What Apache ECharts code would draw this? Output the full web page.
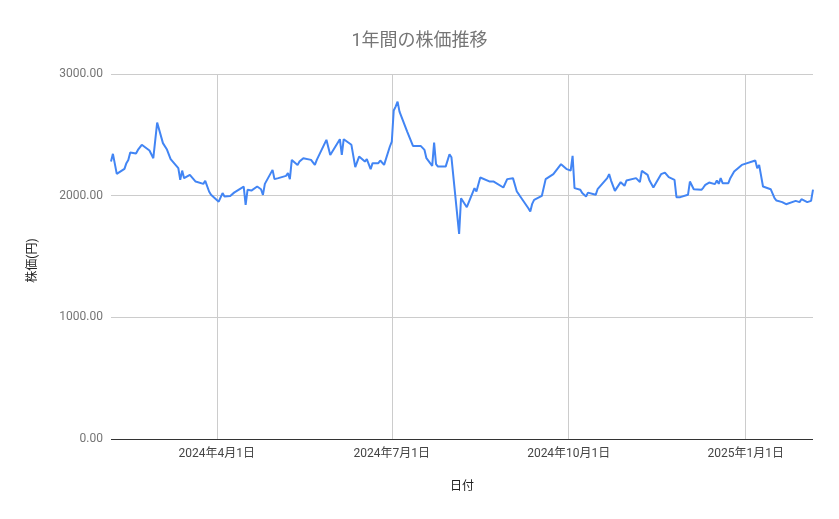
<!DOCTYPE html>
<html><head><meta charset="utf-8">
<script src="https://cdn.jsdelivr.net/npm/echarts@6/dist/echarts.min.js"></script>
<style>html,body{margin:0;padding:0;background:#fff}#c{width:839px;height:519px}</style>
</head><body><div id="c"></div>
<script>
const chartTitle = '1年間の株価推移';
const xAxisName = '日付';
const yAxisName = '株価(円)';
const dates = [
 '2024-02-06','2024-02-07','2024-02-08','2024-02-09','2024-02-13','2024-02-14','2024-02-15','2024-02-16','2024-02-19','2024-02-20',
 '2024-02-22','2024-02-26','2024-02-28','2024-02-29','2024-03-01','2024-03-04','2024-03-06','2024-03-08','2024-03-12','2024-03-13',
 '2024-03-14','2024-03-15','2024-03-18','2024-03-21','2024-03-22','2024-03-25','2024-03-26','2024-03-27','2024-03-28','2024-03-29',
 '2024-04-02','2024-04-04','2024-04-05','2024-04-08','2024-04-10','2024-04-15','2024-04-16','2024-04-17','2024-04-19','2024-04-22',
 '2024-04-24','2024-04-25','2024-04-26','2024-04-30','2024-05-01','2024-05-03','2024-05-07','2024-05-08','2024-05-09','2024-05-10',
 '2024-05-13','2024-05-14','2024-05-16','2024-05-20','2024-05-21','2024-05-22','2024-05-23','2024-05-28','2024-05-30','2024-05-31',
 '2024-06-04','2024-06-05','2024-06-06','2024-06-07','2024-06-10','2024-06-12','2024-06-13','2024-06-14','2024-06-17','2024-06-18',
 '2024-06-19','2024-06-20','2024-06-21','2024-06-24','2024-06-25','2024-06-26','2024-06-27','2024-06-30','2024-07-01','2024-07-02',
 '2024-07-03','2024-07-04','2024-07-05','2024-07-09','2024-07-10','2024-07-12','2024-07-16','2024-07-18','2024-07-19','2024-07-22',
 '2024-07-23','2024-07-24','2024-07-25','2024-07-29','2024-07-31','2024-08-01','2024-08-05','2024-08-06','2024-08-09','2024-08-13',
 '2024-08-14','2024-08-16','2024-08-21','2024-08-23','2024-08-28','2024-08-30','2024-09-02','2024-09-04','2024-09-05','2024-09-10',
 '2024-09-11','2024-09-12','2024-09-13','2024-09-17','2024-09-19','2024-09-20','2024-09-23','2024-09-27','2024-09-30','2024-10-01',
 '2024-10-02','2024-10-03','2024-10-04','2024-10-07','2024-10-08','2024-10-09','2024-10-10','2024-10-11','2024-10-15','2024-10-16',
 '2024-10-21','2024-10-22','2024-10-23','2024-10-24','2024-10-25','2024-10-28','2024-10-29','2024-10-30','2024-10-31','2024-11-05',
 '2024-11-06','2024-11-07','2024-11-08','2024-11-11','2024-11-12','2024-11-13','2024-11-14','2024-11-18','2024-11-20','2024-11-22',
 '2024-11-25','2024-11-26','2024-11-27','2024-11-28','2024-12-02','2024-12-03','2024-12-05','2024-12-09','2024-12-10','2024-12-11',
 '2024-12-12','2024-12-13','2024-12-16','2024-12-17','2024-12-18','2024-12-19','2024-12-20','2024-12-23','2024-12-24','2024-12-26',
 '2024-12-30','2025-01-06','2025-01-07','2025-01-08','2025-01-10','2025-01-14','2025-01-15','2025-01-16','2025-01-17','2025-01-20',
 '2025-01-22','2025-01-27','2025-01-28','2025-01-29','2025-01-30','2025-02-02','2025-02-04','2025-02-05'
];
const prices = [
 2280,2344,2330,2179,2220,2267,2294,2354,2346,2376,
 2418,2371,2308,2294,2601,2432,2382,2300,2226,2130,
 2206,2144,2171,2116,2103,2097,2122,2111,2034,2007,
 1951,2021,1993,1998,2025,2075,1924,2048,2042,2075,
 2053,2007,2097,2212,2136,2144,2163,2185,2136,2294,
 2253,2280,2308,2294,2286,2253,2294,2459,2335,2327,
 2464,2335,2464,2450,2418,2234,2218,2321,2280,2300,
 2259,2218,2267,2267,2289,2286,2253,2404,2445,2700,
 2732,2773,2691,2527,2519,2409,2409,2376,2308,2245,
 2436,2259,2239,2239,2340,2316,1686,1979,1905,2062,
 2034,2149,2116,2116,2067,2136,2144,2034,2012,1897,
 1869,1933,1965,1998,2136,2138,2177,2259,2218,2220,
 2206,2327,2062,2048,2021,2025,1993,2025,2007,2053,
 2144,2177,2124,2122,2039,2111,2116,2081,2124,2144,
 2152,2111,2204,2171,2124,2116,2067,2177,2190,2152,
 2130,1988,1998,1988,2007,2116,2053,2048,2067,2089,
 2075,2108,2095,2124,2097,2144,2103,2103,2144,2198,
 2253,2289,2226,2253,2075,2053,2048,1979,1960,1947,
 1930,1957,1957,1947,1971,1947,1957,2050
];
const xTickDates = ['2024-04-01','2024-07-01','2024-10-01','2025-01-01'];
const yTicks = [0, 1000, 2000, 3000];

const ts = s => { const p = s.split('-').map(Number); return Date.UTC(p[0], p[1]-1, p[2]); };
const xTickValues = xTickDates.map(ts);
const fmtDate = v => { const d = new Date(v); return d.getUTCFullYear() + '年' + (d.getUTCMonth()+1) + '月' + d.getUTCDate() + '日'; };
const seriesData = dates.map((d, i) => [ts(d), prices[i]]);

const FONT = 'Roboto, "Noto Sans CJK JP", sans-serif';
const chart = echarts.init(document.getElementById('c'), null, {renderer: 'canvas'});
chart.setOption({
  animation: false,
  backgroundColor: '#ffffff',
  textStyle: {fontFamily: FONT},
  title: {
    text: chartTitle, left: 'center', top: 28,
    textStyle: {fontFamily: FONT, fontSize: 18, fontWeight: 'normal', color: '#757575'}
  },
  grid: {left: 111, right: 26, top: 74, bottom: 80, containLabel: false},
  xAxis: {
    type: 'value',
    min: ts(dates[0]), max: ts(dates[dates.length-1]),
    name: xAxisName, nameLocation: 'middle', nameGap: 42,
    nameTextStyle: {fontFamily: FONT, fontSize: 12, color: '#222222'},
    axisLine: {show: false},
    axisTick: {show: false, customValues: xTickValues},
    axisLabel: {customValues: xTickValues, formatter: fmtDate, color: '#444444', fontSize: 12, margin: 9, fontFamily: FONT},
    splitLine: {show: true, lineStyle: {color: '#cccccc', width: 1}}
  },
  yAxis: {
    type: 'value', min: yTicks[0], max: yTicks[yTicks.length-1], interval: 1000,
    name: yAxisName, nameLocation: 'middle', nameGap: 72,
    nameTextStyle: {fontFamily: FONT, fontSize: 12, color: '#222222', padding: [0, 8, 0, 0]},
    axisLine: {show: false}, axisTick: {show: false},
    axisLabel: {formatter: v => v.toFixed(2), color: '#757575', fontSize: 12, margin: 8, fontFamily: FONT},
    splitLine: {show: true, lineStyle: {color: '#cccccc', width: 1}}
  },
  series: [{
    type: 'line', data: seriesData, showSymbol: false, symbol: 'none',
    lineStyle: {color: '#4285f4', width: 2}, itemStyle: {color: '#4285f4'},
    markLine: {
      silent: true, symbol: 'none', label: {show: false},
      lineStyle: {color: '#333333', width: 1, type: 'solid'},
      data: [{yAxis: yTicks[0]}], animation: false
    },
    z: 3
  }]
});
</script></body></html>
